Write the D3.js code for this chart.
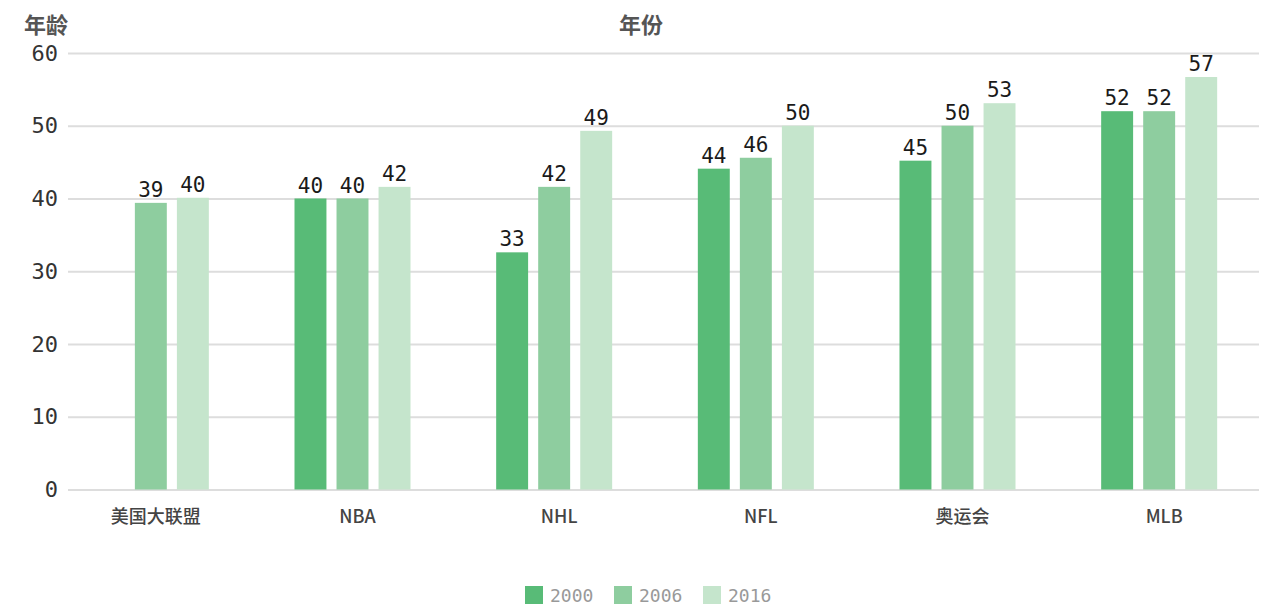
<!DOCTYPE html>
<html>
<head>
<meta charset="utf-8">
<script src="https://cdn.jsdelivr.net/npm/d3@7"></script>
<style>
  body { margin: 0; background: #fff; }
  svg { display: block; }
</style>
</head>
<body>
<svg id="chart" width="1280" height="616"></svg>
<script>
// chart data
var categories = ["美国大联盟", "NBA", "NHL", "NFL", "奥运会", "MLB"];
var years = ["2000", "2006", "2016"];
var age2000 = [null, 40, 32.6, 44.1, 45.2, 52];
var age2006 = [39.4, 40, 41.6, 45.6, 50, 52];
var age2016 = [40.1, 41.6, 49.3, 50, 53.1, 56.7];
var yTicks = [0, 10, 20, 30, 40, 50, 60];
var colors = ["#58bb77", "#8ecd9f", "#c5e5cc"];

var series = [age2000, age2006, age2016];
var monoFont = "'DejaVu Sans Mono', monospace";
var cjkFont = "'Noto Sans CJK SC', sans-serif";

var svg = d3.select("#chart");

var gridLeft = 68, gridRight = 1259;

var y = d3.scaleLinear().domain([0, 60]).range([489.5, 53]);
var x = d3.scaleBand().domain(categories).range([50, 1260]).padding(0);
var x1 = d3.scaleBand().domain(years).range([0, 116]).paddingInner(0.24);
var color = d3.scaleOrdinal().domain(years).range(colors);

// y axis + gridlines
var yAxis = svg.append("g")
  .attr("transform", "translate(" + gridLeft + ",0)")
  .call(d3.axisLeft(y).tickValues(yTicks).tickSizeInner(-(gridRight - gridLeft)).tickSizeOuter(0).tickPadding(10));
yAxis.select(".domain").remove();
yAxis.selectAll(".tick line").attr("stroke", "#dddddd").attr("stroke-width", 2);
yAxis.selectAll(".tick text")
  .attr("fill", "#333")
  .style("font-family", monoFont)
  .style("font-size", "22px");

// category labels
var xAxis = svg.append("g")
  .attr("transform", "translate(5,489)")
  .call(d3.axisBottom(x).tickSize(0).tickPadding(21));
xAxis.select(".domain").remove();
xAxis.selectAll(".tick text")
  .attr("fill", "#444")
  .style("font-family", cjkFont)
  .style("font-size", "18px")
  .style("font-weight", "500");

// bars
var groups = svg.append("g").selectAll("g")
  .data(categories)
  .join("g")
  .attr("transform", d => "translate(" + (x(d) + x.bandwidth() / 2 - 58) + ",0)");

var cells = groups.selectAll("g")
  .data((d, i) => years.map((yr, j) => ({ year: yr, value: series[j][i] })).filter(c => c.value != null))
  .join("g");

cells.append("rect")
  .attr("x", d => x1(d.year))
  .attr("width", x1.bandwidth())
  .attr("y", d => y(d.value))
  .attr("height", d => y(0) - y(d.value))
  .attr("fill", d => color(d.year));

cells.append("text")
  .attr("x", d => x1(d.year) + x1.bandwidth() / 2)
  .attr("y", d => y(d.value) - 6)
  .attr("text-anchor", "middle")
  .attr("fill", "#1a1a1a")
  .style("font-family", monoFont)
  .style("font-size", "21px")
  .text(d => Math.round(d.value));

// titles
svg.append("text")
  .attr("x", 24).attr("y", 33)
  .attr("fill", "#555")
  .style("font-family", cjkFont)
  .style("font-size", "22px")
  .style("font-weight", "bold")
  .text("年龄");

svg.append("text")
  .attr("x", 641).attr("y", 33)
  .attr("text-anchor", "middle")
  .attr("fill", "#555")
  .style("font-family", cjkFont)
  .style("font-size", "22px")
  .style("font-weight", "bold")
  .text("年份");

// legend
var legend = svg.append("g").selectAll("g")
  .data(years)
  .join("g")
  .attr("transform", (d, i) => "translate(" + (525 + i * 89) + ",586)");

legend.append("rect")
  .attr("width", 18).attr("height", 18)
  .attr("fill", d => color(d));

legend.append("text")
  .attr("x", 25).attr("y", 16)
  .attr("fill", "#999")
  .style("font-family", monoFont)
  .style("font-size", "18px")
  .text(d => d);
</script>
</body>
</html>
